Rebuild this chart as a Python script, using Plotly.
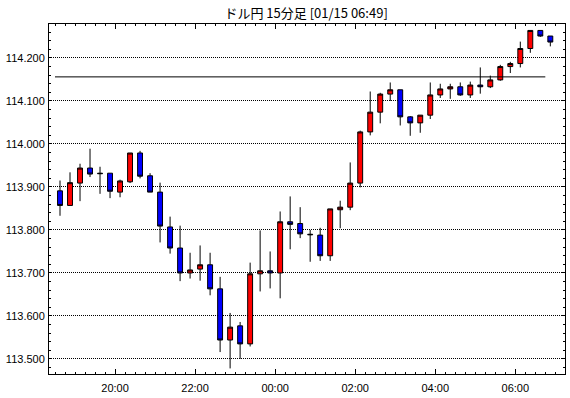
import plotly.graph_objects as go
import pandas as pd

# ---- data ----
DATE0 = "2022-01-14"
times = ["18:30", "18:45", "19:00", "19:15", "19:30", "19:45", "20:00", "20:15", "20:30", "20:45",
         "21:00", "21:15", "21:30", "21:45", "22:00", "22:15", "22:30", "22:45", "23:00", "23:15",
         "23:30", "23:45", "00:00", "00:15", "00:30", "00:45", "01:00", "01:15", "01:30", "01:45",
         "02:00", "02:15", "02:30", "02:45", "03:00", "03:15", "03:30", "03:45", "04:00", "04:15",
         "04:30", "04:45", "05:00", "05:15", "05:30", "05:45", "06:00", "06:15", "06:30", "06:45"]

open_ = [113.891, 113.857, 113.909, 113.944, 113.932, 113.932, 113.888, 113.912, 113.979, 113.926,
         113.888, 113.807, 113.758, 113.700, 113.709, 113.719, 113.663, 113.544, 113.577, 113.535,
         113.698, 113.705, 113.700, 113.819, 113.815, 113.790, 113.788, 113.740, 113.847, 113.853,
         113.909, 114.028, 114.074, 114.116, 114.126, 114.063, 114.049, 114.067, 114.114, 114.128,
         114.133, 114.114, 114.137, 114.133, 114.149, 114.180, 114.187, 114.222, 114.264, 114.251]
high = [113.915, 113.934, 113.954, 113.989, 113.947, 113.932, 113.917, 113.979, 113.984, 113.932,
        113.910, 113.831, 113.810, 113.747, 113.764, 113.747, 113.691, 113.607, 113.586, 113.724,
        113.799, 113.750, 113.843, 113.878, 113.853, 113.800, 113.805, 113.849, 113.868, 113.957,
        114.031, 114.122, 114.119, 114.143, 114.126, 114.065, 114.067, 114.143, 114.140, 114.140,
        114.143, 114.145, 114.178, 114.159, 114.184, 114.191, 114.238, 114.264, 114.264, 114.251]
low = [113.833, 113.857, 113.867, 113.923, 113.884, 113.874, 113.876, 113.909, 113.920, 113.888,
       113.771, 113.745, 113.681, 113.687, 113.682, 113.648, 113.516, 113.478, 113.500, 113.529,
       113.657, 113.664, 113.641, 113.755, 113.781, 113.726, 113.728, 113.728, 113.804, 113.846,
       113.899, 114.020, 114.048, 114.100, 114.043, 114.019, 114.026, 114.058, 114.107, 114.105,
       114.112, 114.107, 114.117, 114.130, 114.147, 114.165, 114.178, 114.212, 114.249, 114.227]
close = [113.857, 113.910, 113.944, 113.930, 113.931, 113.890, 113.914, 113.979, 113.925, 113.888,
         113.809, 113.758, 113.700, 113.707, 113.719, 113.663, 113.544, 113.574, 113.535, 113.698,
         113.705, 113.700, 113.819, 113.813, 113.791, 113.789, 113.740, 113.849, 113.853, 113.909,
         114.028, 114.074, 114.116, 114.126, 114.063, 114.049, 114.067, 114.114, 114.128, 114.133,
         114.114, 114.137, 114.133, 114.149, 114.180, 114.187, 114.222, 114.264, 114.251, 114.237]

level = 114.156
level_start = "18:30"
level_end = "06:45"

title_text = "ドル円 15分足 [01/15 06:49]"
x_range = ["2022-01-14 18:21:00", "2022-01-15 07:14:30"]
y_range = [113.465, 114.279]

# ---- build ----
def to_dt(hhmm):
    t = pd.Timestamp(f"{DATE0} {hhmm}")
    if t.hour < 12:
        t = t + pd.Timedelta(days=1)
    return t

bar_len = pd.Timedelta(minutes=15)
starts = [to_dt(t) for t in times]
centers = [s + bar_len / 2 for s in starts]

fig = go.Figure()
fig.add_trace(go.Candlestick(
    x=centers, open=open_, high=high, low=low, close=close,
    increasing=dict(fillcolor="#FF0000", line=dict(color="#000000", width=1)),
    decreasing=dict(fillcolor="#0000FF", line=dict(color="#000000", width=1)),
    whiskerwidth=0, showlegend=False, hoverinfo="skip",
))
fig.add_trace(go.Scatter(
    x=[to_dt(level_start), to_dt(level_end)], y=[level, level],
    mode="lines", line=dict(color="#000000", width=1), showlegend=False, hoverinfo="skip",
))

font = dict(family="Liberation Sans, DejaVu Sans, sans-serif", size=11, color="#000000")

fig.update_layout(
    width=570, height=398,
    margin=dict(l=49, r=5, t=24, b=24, autoexpand=False),
    paper_bgcolor="#FFFFFF", plot_bgcolor="#FFFFFF",
    font=font,
    title=dict(text=title_text, x=0.537, xanchor="center", y=1 - 13 / 398, yanchor="middle",
               automargin=False,
               font=dict(family="Noto Sans CJK JP, sans-serif", size=13, color="#000000")),
    xaxis=dict(
        type="date", range=x_range, rangeslider=dict(visible=False), automargin=False,
        showgrid=False, zeroline=False,
        showline=True, linecolor="#000000", linewidth=1, mirror="ticks",
        ticks="inside", ticklen=5, tickcolor="#000000", tickwidth=1,
        tick0="2022-01-14 00:00", dtick=2 * 3600 * 1000, tickformat="%H:%M",
        ticklabelstandoff=4,
        minor=dict(ticks="inside", ticklen=2, tickcolor="#000000", dtick=15 * 60 * 1000,
                   tick0="2022-01-14 00:00", showgrid=False),
        tickfont=font,
    ),
    yaxis=dict(
        range=y_range, automargin=False, showgrid=True, gridcolor="#000000",
        griddash="1px,1px", gridwidth=1, zeroline=False,
        showline=True, linecolor="#000000", linewidth=1, mirror="ticks",
        ticks="inside", ticklen=3, tickcolor="#000000", tickwidth=1,
        tick0=113.5, dtick=0.1, tickformat=".3f", ticklabelstandoff=1,
        minor=dict(ticks="inside", ticklen=2, tickcolor="#000000", dtick=0.02, tick0=113.5,
                   showgrid=False),
        tickfont=font,
    ),
)

fig.write_html("out.html", config={"displayModeBar": False},
               post_script="document.body.style.margin='0';document.body.style.padding='0';")
